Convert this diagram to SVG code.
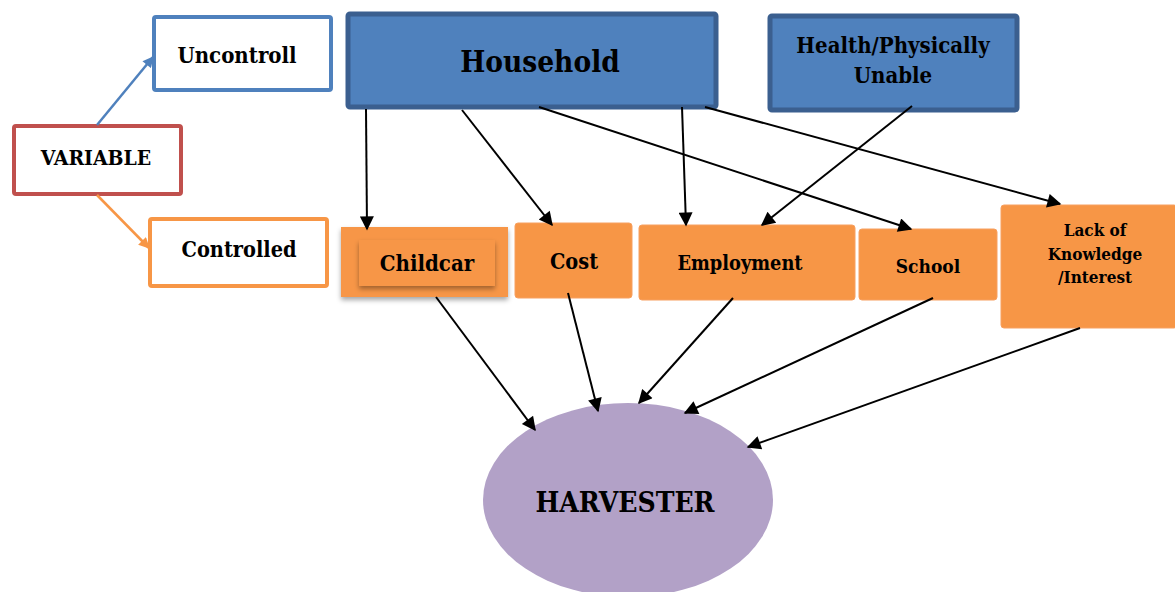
<svg xmlns="http://www.w3.org/2000/svg" width="1175" height="592" viewBox="0 0 1175 592">
  <style>
    text { font-family: "DejaVu Serif Condensed", "DejaVu Serif", serif; font-weight: bold; fill: #000; text-anchor: middle; }
    .legend { fill: #fff; stroke-width: 4; }
    .blue { fill: #4f81bd; stroke: #3b5f8f; stroke-width: 5; }
    .orange { fill: #f79646; stroke: #f7a060; stroke-width: 1; }
    .conn { stroke: #000; stroke-width: 2; fill: none; marker-end: url(#arrow); }
  </style>
  <defs>
    <marker id="arrow" viewBox="0 0 10 10" refX="9" refY="5" markerWidth="16" markerHeight="14" markerUnits="userSpaceOnUse" orient="auto">
      <path d="M0,0 L10,5 L0,10 z" fill="#000"/>
    </marker>
    <marker id="arrowBlue" viewBox="0 0 10 10" refX="9" refY="5" markerWidth="12" markerHeight="11" markerUnits="userSpaceOnUse" orient="auto">
      <path d="M0,0 L10,5 L0,10 z" fill="#4f81bd"/>
    </marker>
    <marker id="arrowOrange" viewBox="0 0 10 10" refX="9" refY="5" markerWidth="12" markerHeight="11" markerUnits="userSpaceOnUse" orient="auto">
      <path d="M0,0 L10,5 L0,10 z" fill="#f79646"/>
    </marker>
    <filter id="shadow" x="-20%" y="-20%" width="140%" height="150%">
      <feDropShadow dx="0" dy="3" stdDeviation="2.5" flood-color="#000" flood-opacity="0.35"/>
    </filter>
  </defs>

  <!-- legend -->
  <g id="variable">
    <rect class="legend" x="14" y="126" width="167" height="68" rx="2" stroke="#c0504d"/>
    <text x="96" y="165" font-size="21">VARIABLE</text>
  </g>
  <g id="uncontroll">
    <rect class="legend" x="154" y="17" width="177" height="73" rx="2" stroke="#4f81bd"/>
    <text x="237" y="63" font-size="22">Uncontroll</text>
  </g>
  <g id="controlled">
    <rect class="legend" x="150" y="219" width="177" height="67" rx="2" stroke="#f79646"/>
    <text x="239" y="257" font-size="21.5">Controlled</text>
  </g>

  <!-- upper causes -->
  <g id="household">
    <rect class="blue" x="348" y="14" width="368" height="93" rx="2"/>
    <text x="540" y="72" font-size="29.5">Household</text>
  </g>
  <g id="health">
    <rect class="blue" x="770" y="16" width="247" height="94" rx="2"/>
    <text x="893" y="53" font-size="22">Health/Physically</text>
    <text x="893" y="83" font-size="22">Unable</text>
  </g>

  <!-- controlled factors -->
  <g id="childcare">
    <rect x="341" y="227" width="167" height="70" fill="#f79646" filter="url(#shadow)"/>
    <rect x="359" y="240" width="136" height="46" fill="#f79646" filter="url(#shadow)"/>
    <text x="427" y="271" font-size="22">Childcar</text>
  </g>
  <g id="cost">
    <rect class="orange" x="515" y="223" width="117" height="75" rx="3"/>
    <text x="574" y="269" font-size="21.5">Cost</text>
  </g>
  <g id="employment">
    <rect class="orange" x="639" y="225" width="216" height="75" rx="3"/>
    <text x="740" y="270" font-size="19.8">Employment</text>
  </g>
  <g id="school">
    <rect class="orange" x="859" y="229" width="138" height="71" rx="3"/>
    <text x="928" y="273" font-size="19">School</text>
  </g>
  <g id="lack">
    <rect class="orange" x="1001" y="205" width="176" height="123" rx="3"/>
    <text x="1095" y="236" font-size="17">Lack of</text>
    <text x="1095" y="260" font-size="17">Knowledge</text>
    <text x="1095" y="283" font-size="17">/Interest</text>
  </g>

  <!-- outcome -->
  <g id="harvester">
    <ellipse cx="628" cy="500" rx="145" ry="97" fill="#b2a1c7"/>
    <text x="625" y="512" font-size="28">HARVESTER</text>
  </g>

  <!-- connectors -->
  <g id="connectors">
    <line x1="97" y1="125" x2="153" y2="57" stroke="#4f81bd" stroke-width="2.5" marker-end="url(#arrowBlue)"/>
    <line x1="97" y1="195" x2="149" y2="248" stroke="#f79646" stroke-width="2.5" marker-end="url(#arrowOrange)"/>

    <line class="conn" x1="366" y1="109" x2="367" y2="229"/>
    <line class="conn" x1="462" y1="110" x2="552" y2="225"/>
    <line class="conn" x1="539" y1="107" x2="911" y2="229"/>
    <line class="conn" x1="682" y1="107" x2="686" y2="225"/>
    <line class="conn" x1="705" y1="107" x2="1060" y2="204"/>
    <line class="conn" x1="912" y1="106" x2="762" y2="225"/>

    <line class="conn" x1="436" y1="297" x2="535" y2="430"/>
    <line class="conn" x1="568" y1="293" x2="598" y2="411"/>
    <line class="conn" x1="733" y1="298" x2="639" y2="403"/>
    <line class="conn" x1="933" y1="298" x2="685" y2="413"/>
    <line class="conn" x1="1080" y1="328" x2="748" y2="447"/>
  </g>
</svg>
